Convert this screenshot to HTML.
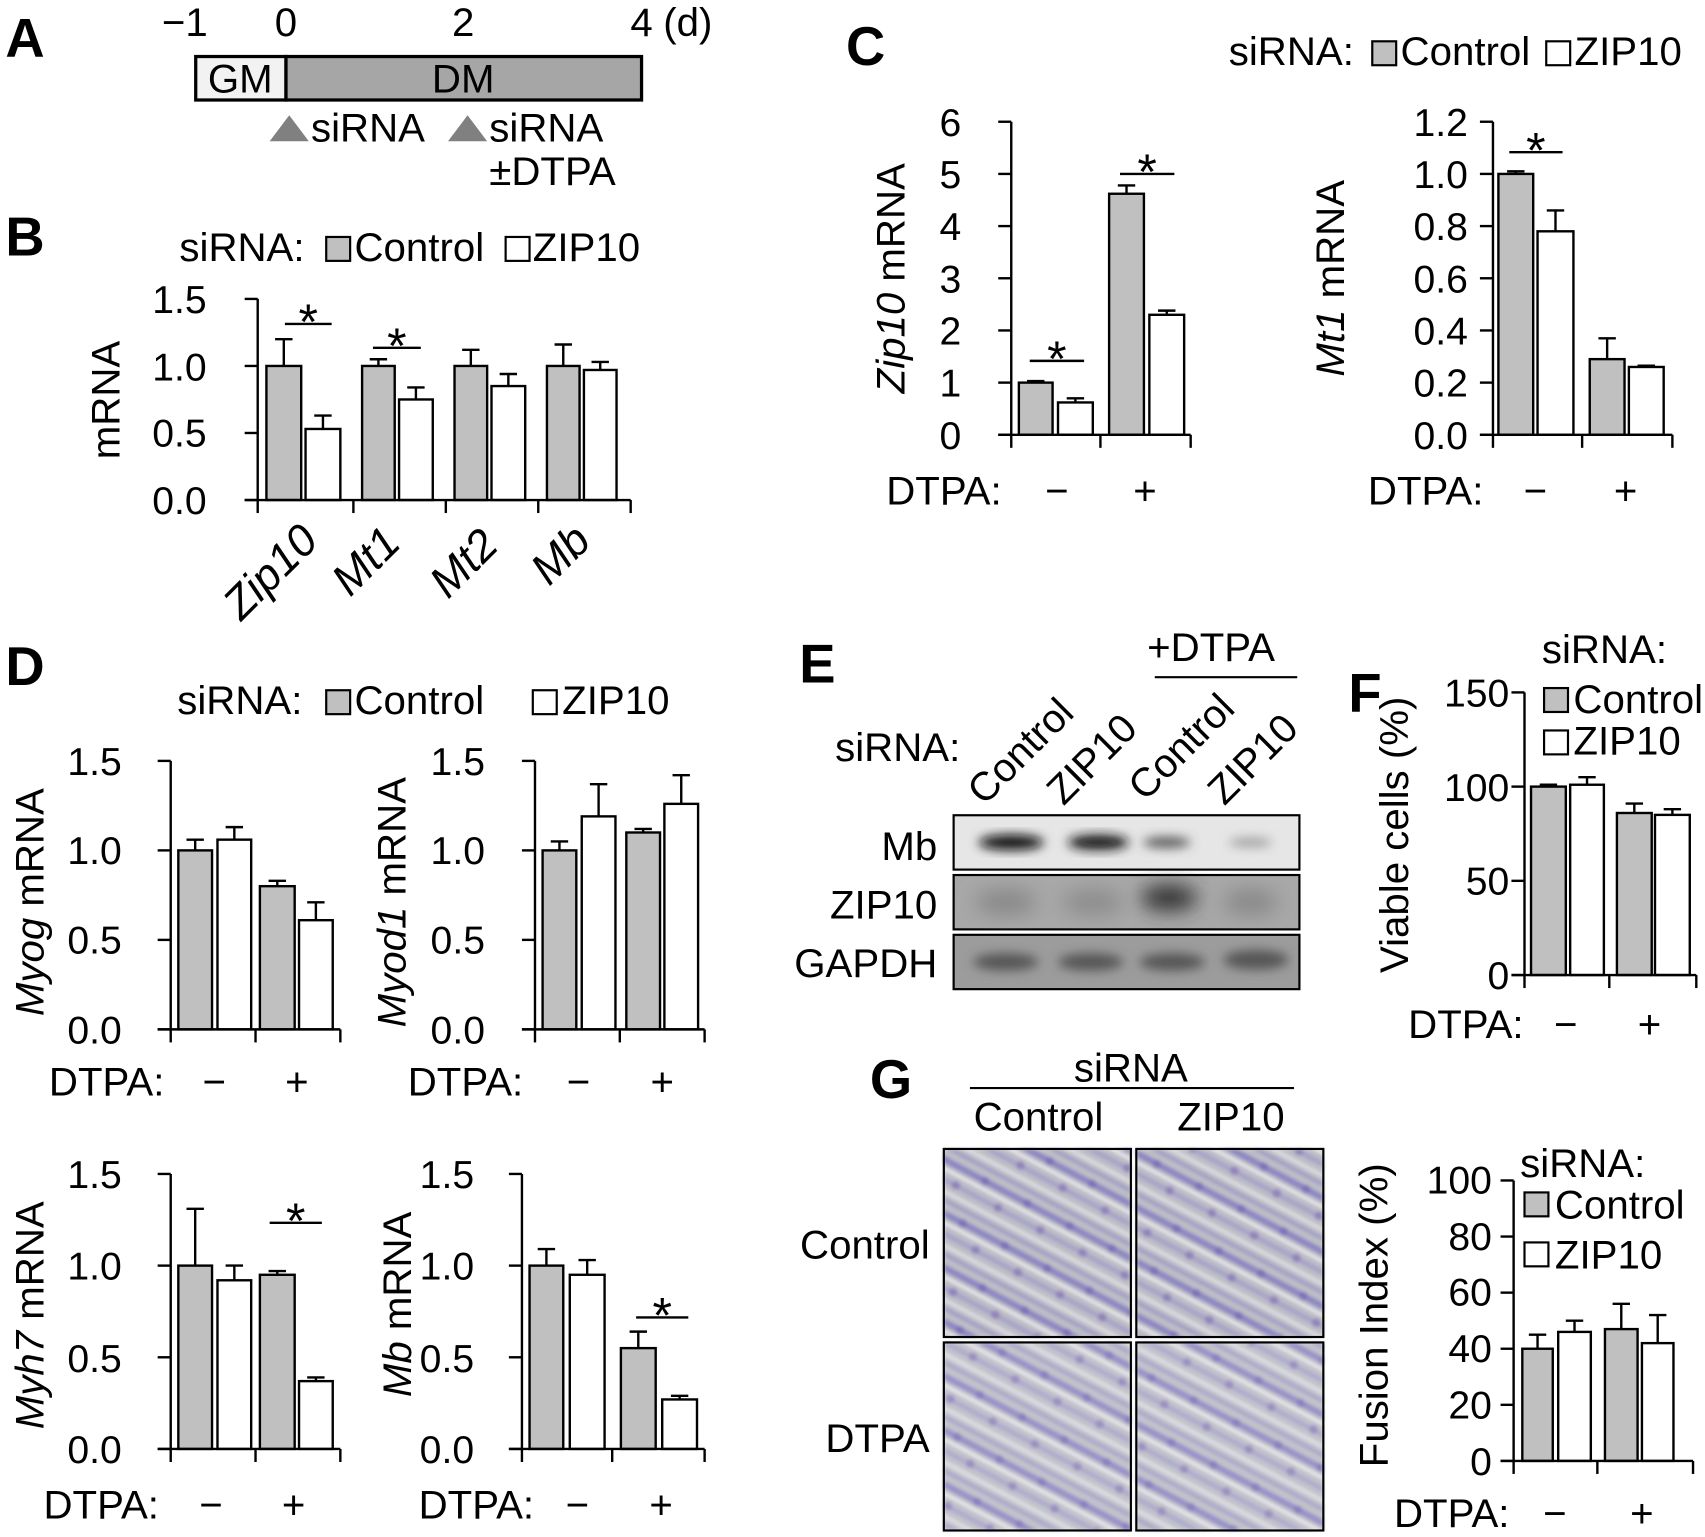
<!DOCTYPE html>
<html><head><meta charset="utf-8"><style>
html,body{margin:0;padding:0;background:#fff}
svg{display:block}
text{font-family:"Liberation Sans",Arial,sans-serif;fill:#000}
.t{font-size:37px}
.b{font-size:50px;font-weight:bold}
.tk{font-size:36px;text-anchor:end}
.i{font-style:italic}
</style></head><body>
<svg id="s" width="1705" height="1537" viewBox="0 0 1568 1414" preserveAspectRatio="none" xmlns="http://www.w3.org/2000/svg">
<defs>
<filter id="bl" x="-50%" y="-50%" width="200%" height="200%"><feGaussianBlur stdDeviation="5"/></filter>
<filter id="bl2" x="-50%" y="-50%" width="200%" height="200%"><feGaussianBlur stdDeviation="9"/></filter>
<filter id="bl3"><feGaussianBlur stdDeviation="1.5"/></filter>
<pattern id="cells" width="44" height="44" patternUnits="userSpaceOnUse" patternTransform="rotate(28)">
<rect width="44" height="44" fill="#bdbdc6"/>
<rect y="3" width="44" height="6" fill="#7f76c0" opacity="0.75"/>
<rect y="12" width="44" height="3" fill="#e6e6ea"/>
<rect y="20" width="44" height="5" fill="#9a92c8" opacity="0.6"/>
<rect y="30" width="44" height="4" fill="#d8d8de"/>
<rect y="37" width="44" height="4" fill="#8c84c4" opacity="0.5"/>
<circle cx="12" cy="22" r="4" fill="#7a62b0" opacity="0.5"/>
<circle cx="34" cy="6" r="4" fill="#6f5cb0" opacity="0.5"/>
</pattern>
</defs>
<g id="g"></g>

<!-- A -->
<text class="b" x="5" y="52">A</text>
<rect x="180" y="52" width="83" height="40" fill="#f2f2f2" stroke="#000" stroke-width="3"/>
<rect x="263" y="52" width="327" height="40" fill="#a6a6a6" stroke="#000" stroke-width="3"/>
<text class="t" x="221" y="85" text-anchor="middle">GM</text>
<text class="t" x="426" y="85" text-anchor="middle">DM</text>
<text class="t" x="170" y="33" text-anchor="middle">−1</text>
<text class="t" x="263" y="33" text-anchor="middle">0</text>
<text class="t" x="426" y="33" text-anchor="middle">2</text>
<text class="t" x="590" y="33" text-anchor="middle">4</text>
<text class="t" x="610" y="33">(d)</text>
<polygon points="248,130 266,106 284,130" fill="#808080"/>
<text class="t" x="286" y="130">siRNA</text>
<polygon points="412,130 430,106 448,130" fill="#808080"/>
<text class="t" x="450" y="130">siRNA</text>
<text class="t" x="450" y="170">±DTPA</text>

<!-- B -->
<text class="b" x="5" y="235">B</text>
<text class="t" x="165" y="240">siRNA:</text>
<rect x="300" y="218" width="22" height="22" fill="#c0c0c0" stroke="#000" stroke-width="2"/>
<text class="t" x="326" y="240">Control</text>
<rect x="465" y="218" width="22" height="22" fill="#fff" stroke="#000" stroke-width="2"/>
<text class="t" x="490" y="240">ZIP10</text>
<text class="tk" x="190" y="288">1.5</text>
<text class="tk" x="190" y="350">1.0</text>
<text class="tk" x="190" y="411">0.5</text>
<text class="tk" x="190" y="473">0.0</text>
<text class="t" transform="translate(110,368) rotate(-90)" text-anchor="middle">mRNA</text>
<text class="t i" style="font-size:41px" transform="translate(222,572) rotate(-45)">Zip10</text>
<text class="t i" style="font-size:41px" transform="translate(322,550) rotate(-45)">Mt1</text>
<text class="t i" style="font-size:41px" transform="translate(412,552) rotate(-45)">Mt2</text>
<text class="t i" style="font-size:41px" transform="translate(505,540) rotate(-45)">Mb</text>

<!-- C -->
<text class="b" x="778" y="60">C</text>
<text class="t" x="1130" y="60">siRNA:</text>
<rect x="1262" y="38" width="22" height="22" fill="#c0c0c0" stroke="#000" stroke-width="2"/>
<text class="t" x="1288" y="60">Control</text>
<rect x="1422" y="38" width="22" height="22" fill="#fff" stroke="#000" stroke-width="2"/>
<text class="t" x="1448" y="60">ZIP10</text>
<text class="tk" x="884" y="125">6</text>
<text class="tk" x="884" y="173">5</text>
<text class="tk" x="884" y="221">4</text>
<text class="tk" x="884" y="269">3</text>
<text class="tk" x="884" y="317">2</text>
<text class="tk" x="884" y="365">1</text>
<text class="tk" x="884" y="413">0</text>
<text class="t" transform="translate(832,256) rotate(-90)" text-anchor="middle"><tspan class="i">Zip10</tspan> mRNA</text>
<text class="t" x="815" y="464">DTPA:</text>
<text class="t" x="972" y="464" text-anchor="middle">−</text>
<text class="t" x="1053" y="464" text-anchor="middle">+</text>
<text class="tk" x="1350" y="125">1.2</text>
<text class="tk" x="1350" y="173">1.0</text>
<text class="tk" x="1350" y="221">0.8</text>
<text class="tk" x="1350" y="269">0.6</text>
<text class="tk" x="1350" y="317">0.4</text>
<text class="tk" x="1350" y="365">0.2</text>
<text class="tk" x="1350" y="413">0.0</text>
<text class="t" transform="translate(1236,256) rotate(-90)" text-anchor="middle"><tspan class="i">Mt1</tspan> mRNA</text>
<text class="t" x="1258" y="464">DTPA:</text>
<text class="t" x="1412" y="464" text-anchor="middle">−</text>
<text class="t" x="1495" y="464" text-anchor="middle">+</text>

<!-- D -->
<text class="b" x="5" y="630">D</text>
<text class="t" x="163" y="657">siRNA:</text>
<rect x="300" y="635" width="22" height="22" fill="#c0c0c0" stroke="#000" stroke-width="2"/>
<text class="t" x="326" y="657">Control</text>
<rect x="490" y="635" width="22" height="22" fill="#fff" stroke="#000" stroke-width="2"/>
<text class="t" x="517" y="657">ZIP10</text>
<text class="tk" x="112" y="713">1.5</text>
<text class="tk" x="112" y="795">1.0</text>
<text class="tk" x="112" y="877">0.5</text>
<text class="tk" x="112" y="960">0.0</text>
<text class="t" transform="translate(40,830) rotate(-90)" text-anchor="middle"><tspan class="i">Myog</tspan> mRNA</text>
<text class="t" x="45" y="1008">DTPA:</text>
<text class="t" x="197" y="1008" text-anchor="middle">−</text>
<text class="t" x="273" y="1008" text-anchor="middle">+</text>
<text class="tk" x="446" y="713">1.5</text>
<text class="tk" x="446" y="795">1.0</text>
<text class="tk" x="446" y="877">0.5</text>
<text class="tk" x="446" y="960">0.0</text>
<text class="t" transform="translate(373,830) rotate(-90)" text-anchor="middle"><tspan class="i">Myod1</tspan> mRNA</text>
<text class="t" x="375" y="1008">DTPA:</text>
<text class="t" x="532" y="1008" text-anchor="middle">−</text>
<text class="t" x="609" y="1008" text-anchor="middle">+</text>
<text class="tk" x="112" y="1093">1.5</text>
<text class="tk" x="112" y="1177">1.0</text>
<text class="tk" x="112" y="1262">0.5</text>
<text class="tk" x="112" y="1346">0.0</text>
<text class="t" transform="translate(40,1210) rotate(-90)" text-anchor="middle"><tspan class="i">Myh7</tspan> mRNA</text>
<text class="t" x="40" y="1397">DTPA:</text>
<text class="t" x="194" y="1397" text-anchor="middle">−</text>
<text class="t" x="270" y="1397" text-anchor="middle">+</text>
<text class="tk" x="436" y="1093">1.5</text>
<text class="tk" x="436" y="1177">1.0</text>
<text class="tk" x="436" y="1262">0.5</text>
<text class="tk" x="436" y="1346">0.0</text>
<text class="t" transform="translate(378,1200) rotate(-90)" text-anchor="middle"><tspan class="i">Mb</tspan> mRNA</text>
<text class="t" x="385" y="1397">DTPA:</text>
<text class="t" x="531" y="1397" text-anchor="middle">−</text>
<text class="t" x="608" y="1397" text-anchor="middle">+</text>

<!-- E -->
<text class="b" x="735" y="628">E</text>
<text class="t" x="1055" y="608">+DTPA</text>
<line x1="1062" y1="623" x2="1193" y2="623" stroke="#000" stroke-width="2"/>
<text class="t" x="768" y="700">siRNA:</text>
<text class="t" transform="translate(905,742) rotate(-45)">Control</text>
<text class="t" transform="translate(978,742) rotate(-45)">ZIP10</text>
<text class="t" transform="translate(1053,738) rotate(-45)">Control</text>
<text class="t" transform="translate(1126,742) rotate(-45)">ZIP10</text>
<text class="t" x="862" y="791" text-anchor="end">Mb</text>
<text class="t" x="862" y="845" text-anchor="end">ZIP10</text>
<text class="t" x="862" y="899" text-anchor="end">GAPDH</text>
<rect x="877" y="750" width="318" height="50" fill="#e6e6e6" stroke="#000" stroke-width="2"/>
<g filter="url(#bl)">
<ellipse cx="930" cy="775" rx="30" ry="7" fill="#111"/>
<ellipse cx="1010" cy="775" rx="28" ry="7" fill="#151515"/>
<ellipse cx="1073" cy="775" rx="22" ry="5" fill="#555"/>
<ellipse cx="1150" cy="775" rx="20" ry="4" fill="#999"/>
</g>
<rect x="877" y="805" width="318" height="50" fill="#a8a8a8" stroke="#000" stroke-width="2"/>
<g filter="url(#bl2)">
<ellipse cx="925" cy="830" rx="28" ry="12" fill="#888"/>
<ellipse cx="1005" cy="830" rx="28" ry="12" fill="#8c8c8c"/>
<ellipse cx="1075" cy="826" rx="26" ry="12" fill="#333"/>
<ellipse cx="1150" cy="830" rx="25" ry="12" fill="#888"/>
</g>
<rect x="877" y="860" width="318" height="50" fill="#9c9c9c" stroke="#000" stroke-width="2"/>
<g filter="url(#bl)">
<ellipse cx="925" cy="885" rx="30" ry="8" fill="#555"/>
<ellipse cx="1003" cy="885" rx="30" ry="8" fill="#555"/>
<ellipse cx="1078" cy="885" rx="30" ry="8" fill="#555"/>
<ellipse cx="1155" cy="883" rx="30" ry="9" fill="#555"/>
</g>

<!-- F -->
<text class="b" x="1240" y="655">F</text>
<text class="t" x="1418" y="610">siRNA:</text>
<rect x="1420" y="633" width="22" height="22" fill="#c0c0c0" stroke="#000" stroke-width="2"/>
<text class="t" x="1447" y="656">Control</text>
<rect x="1420" y="672" width="22" height="22" fill="#fff" stroke="#000" stroke-width="2"/>
<text class="t" x="1447" y="694">ZIP10</text>
<text class="tk" x="1388" y="650">150</text>
<text class="tk" x="1388" y="737">100</text>
<text class="tk" x="1388" y="823">50</text>
<text class="tk" x="1388" y="910">0</text>
<text class="t" transform="translate(1295,768) rotate(-90)" text-anchor="middle">Viable cells (%)</text>
<text class="t" x="1295" y="955">DTPA:</text>
<text class="t" x="1440" y="955" text-anchor="middle">−</text>
<text class="t" x="1517" y="955" text-anchor="middle">+</text>

<!-- G -->
<text class="b" x="800" y="1010">G</text>
<text class="t" x="1040" y="995" text-anchor="middle">siRNA</text>
<line x1="892" y1="1001" x2="1190" y2="1001" stroke="#000" stroke-width="2"/>
<text class="t" x="955" y="1040" text-anchor="middle">Control</text>
<text class="t" x="1132" y="1040" text-anchor="middle">ZIP10</text>
<text class="t" x="855" y="1158" text-anchor="end">Control</text>
<text class="t" x="855" y="1336" text-anchor="end">DTPA</text>
<g filter="url(#bl3)">
<rect x="868" y="1057" width="172" height="173" fill="url(#cells)"/>
<rect x="1045" y="1057" width="172" height="173" fill="url(#cells)"/>
<rect x="868" y="1235" width="172" height="173" fill="url(#cells)" opacity="0.9"/>
<rect x="1045" y="1235" width="172" height="173" fill="url(#cells)" opacity="0.9"/>
</g>
<rect x="868" y="1057" width="172" height="173" fill="none" stroke="#000" stroke-width="2"/>
<rect x="1045" y="1057" width="172" height="173" fill="none" stroke="#000" stroke-width="2"/>
<rect x="868" y="1235" width="172" height="173" fill="none" stroke="#000" stroke-width="2"/>
<rect x="1045" y="1235" width="172" height="173" fill="none" stroke="#000" stroke-width="2"/>
<text class="tk" x="1372" y="1098">100</text>
<text class="tk" x="1372" y="1150">80</text>
<text class="tk" x="1372" y="1201">60</text>
<text class="tk" x="1372" y="1253">40</text>
<text class="tk" x="1372" y="1305">20</text>
<text class="tk" x="1372" y="1357">0</text>
<text class="t" transform="translate(1276,1210) rotate(-90)" text-anchor="middle">Fusion Index (%)</text>
<text class="t" x="1398" y="1083">siRNA:</text>
<rect x="1402" y="1097" width="22" height="22" fill="#c0c0c0" stroke="#000" stroke-width="2"/>
<text class="t" x="1430" y="1121">Control</text>
<rect x="1402" y="1143" width="22" height="22" fill="#fff" stroke="#000" stroke-width="2"/>
<text class="t" x="1430" y="1167">ZIP10</text>
<text class="t" x="1282" y="1405">DTPA:</text>
<text class="t" x="1430" y="1405" text-anchor="middle">−</text>
<text class="t" x="1510" y="1405" text-anchor="middle">+</text>
</svg>
<script>
var g=document.getElementById('g'),NS='http://www.w3.org/2000/svg';
function el(t,a){var e=document.createElementNS(NS,t);for(var k in a)e.setAttribute(k,a[k]);g.appendChild(e);return e;}
function L(x1,y1,x2,y2){el('line',{x1:x1,y1:y1,x2:x2,y2:y2,stroke:'#000','stroke-width':2.2});}
function chart(ax,y0,yt,max,nt,xt,bars,sig){
  var s=(y0-yt)/max;
  bars.forEach(function(b,i){
    var x1=b[0],x2=b[1],v=b[2],e=b[3],c=(i%2==0)?'#c0c0c0':'#fff',xm=(x1+x2)/2;
    L(xm,y0-v*s,xm,y0-e*s);L(xm-8,y0-e*s,xm+8,y0-e*s);
    el('rect',{x:x1,y:y0-v*s,width:x2-x1,height:v*s,fill:c,stroke:'#000','stroke-width':2.2});
  });
  L(ax,yt,ax,y0);
  for(var k=0;k<=nt;k++){var y=yt+(y0-yt)*k/nt;L(ax-12,y,ax,y);}
  L(ax-12,y0,xt[xt.length-1],y0);
  xt.forEach(function(x){L(x,y0,x,y0+12);});
  (sig||[]).forEach(function(q){L(q[0],q[2],q[1],q[2]);var t=el('text',{x:(q[0]+q[1])/2,y:q[2]+14,'text-anchor':'middle','font-size':'46'});t.textContent='*';});
}
chart(237,460,275,1.5,3,[237,325,410,495,580],[[245,277,1,1.2],[281,313,.53,.63],[333,363,1,1.05],[367,398,.75,.84],[418,448,1,1.12],[452,483,.85,.94],[503,533,1,1.16],[537,567,.97,1.03]],[[262,305,298],[343,387,320]]);
chart(930,400,112,6,6,[930,1012,1095],[[937,968,1,1.03],[973,1005,.62,.7],[1020,1052,4.62,4.78],[1057,1089,2.3,2.38]],[[947,997,332],[1030,1080,160]]);
chart(1373,400,112,1.2,6,[1373,1455,1538],[[1378,1410,1,1.01],[1414,1447,.78,.86],[1462,1494,.29,.37],[1498,1530,.26,.265]],[[1388,1437,140]]);
chart(157,947,700,1.5,3,[157,235,313],[[164,195,1,1.06],[200,231,1.06,1.13],[239,271,.8,.83],[275,306,.61,.71]]);
chart(492,947,700,1.5,3,[492,570,648],[[499,530,1,1.05],[535,566,1.19,1.37],[576,607,1.1,1.12],[611,642,1.26,1.42]]);
chart(157,1333,1080,1.5,3,[157,235,313],[[164,195,1,1.31],[200,231,.92,1],[239,271,.95,.97],[275,306,.37,.39]],[[248,296,1125]]);
chart(480,1333,1080,1.5,3,[480,563,648],[[487,518,1,1.09],[524,556,.95,1.03],[571,603,.55,.64],[609,641,.27,.29]],[[585,633,1212]]);
chart(1402,897,637,150,3,[1402,1480,1560],[[1408,1440,100,101],[1444,1475,101,105],[1487,1519,86,91],[1522,1554,85,88]]);
chart(1392,1344,1086,100,5,[1392,1469,1557],[[1400,1428,40,45],[1433,1463,46,50],[1476,1506,47,56],[1510,1539,42,52]]);
</script>
</body></html>
